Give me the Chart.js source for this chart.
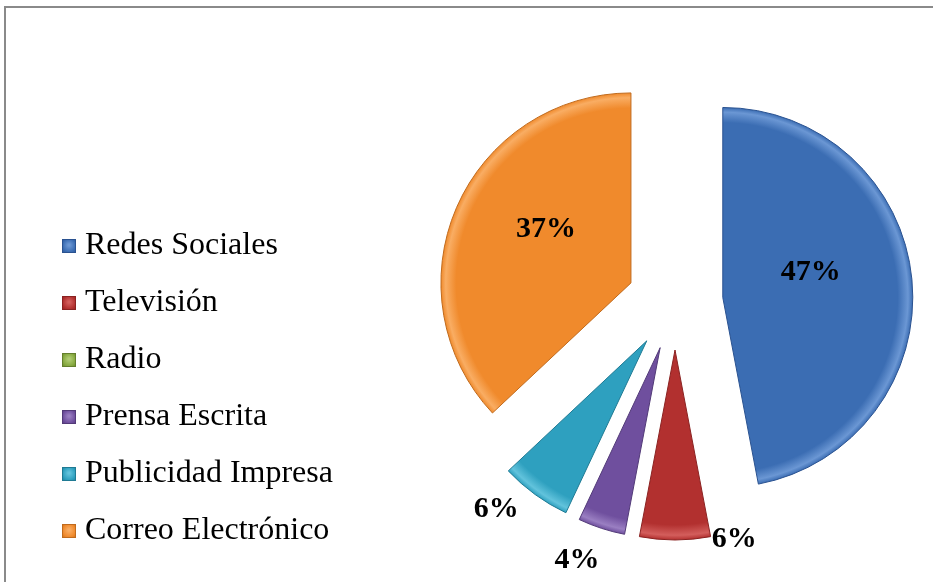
<!DOCTYPE html>
<html>
<head>
<meta charset="utf-8">
<script src="https://cdn.jsdelivr.net/npm/chart.js@4.4.1/dist/chart.umd.min.js"></script>
<style>
  body { margin: 0; background: #fff; }
  #wrap { position: relative; width: 933px; height: 582px; overflow: hidden; }
  #frame { position: absolute; left: 4px; top: 6px; width: 1000px; height: 700px; border: 2px solid #8a8a8a; box-sizing: border-box; }
  #myChart { position: absolute; left: 0; top: 0; }
</style>
</head>
<body>
<div id="wrap">
  <div id="frame"></div>
  <canvas id="myChart" width="933" height="582"></canvas>
</div>
<script>
// datos del gráfico
const categorias = ['Redes Sociales', 'Televisión', 'Radio', 'Prensa Escrita', 'Publicidad Impresa', 'Correo Electrónico'];
const porcentajes = [47, 6, 0, 4, 6, 37];

const colores = ['#3b6db3', '#b2302f', '#86a93f', '#6f4f9e', '#2ea0bf', '#f08a2c'];
const coloresClaros = ['#6b97d4', '#d35e5c', '#b0cc72', '#9a7fc2', '#62c3dc', '#f9ad63'];
const coloresOscuros = ['#2a5290', '#8a2221', '#647f2c', '#523a78', '#1f7a93', '#c06a1c'];

// posición de las etiquetas: desplazamiento angular (grados) y distancia al centro
const etiquetasPos = [
    { shift: -7, r: 139 },
    { shift: -14, r: 245 },
    null,
    { shift: 2.8, r: 276 },
    { shift: 4.7, r: 274 },
    { shift: 6, r: 148 }
];

const RADIO = 190;
const SEPARACION = 48;

function cajaLeyenda(i) {
    const c = document.createElement('canvas');
    c.width = 14;
    c.height = 14;
    const g = c.getContext('2d');
    const grad = g.createRadialGradient(7, 6, 1, 7, 7, 10);
    grad.addColorStop(0, coloresClaros[i]);
    grad.addColorStop(0.6, colores[i]);
    grad.addColorStop(1, coloresOscuros[i]);
    g.fillStyle = grad;
    g.fillRect(0, 0, 14, 14);
    g.strokeStyle = coloresOscuros[i];
    g.lineWidth = 1;
    g.strokeRect(0.5, 0.5, 13, 13);
    return c;
}
const cajas = categorias.map((_, i) => cajaLeyenda(i));

// ángulo medio de cada porción (radianes, 0 = derecha, empezando arriba)
function anguloMedio(i) {
    const total = porcentajes.reduce((a, b) => a + b, 0);
    let acumulado = 0;
    for (let k = 0; k < i; k++) acumulado += porcentajes[k];
    return -Math.PI / 2 + 2 * Math.PI * (acumulado + porcentajes[i] / 2) / total;
}

function centroPorcion(chart, i) {
    const area = chart.chartArea;
    const cx = (area.left + area.right) / 2;
    const cy = (area.top + area.bottom) / 2;
    const a = anguloMedio(i);
    return { x: cx + Math.cos(a) * SEPARACION, y: cy + Math.sin(a) * SEPARACION };
}

function relleno(context) {
    const chart = context.chart;
    const i = context.dataIndex;
    if (!chart.chartArea) return colores[i];
    const c = centroPorcion(chart, i);
    const grad = chart.ctx.createRadialGradient(c.x, c.y, 0, c.x, c.y, RADIO);
    grad.addColorStop(0, colores[i]);
    grad.addColorStop(0.92, colores[i]);
    grad.addColorStop(0.975, coloresClaros[i]);
    grad.addColorStop(1, colores[i]);
    return grad;
}

// ancho fijo de la leyenda para dejar el pastel en su sitio
const anchoLeyenda = {
    id: 'anchoLeyenda',
    beforeInit(chart) {
        const legend = chart.legend;
        const fitOriginal = legend.fit;
        legend.fit = function() {
            fitOriginal.call(this);
            this.width = 373;
        };
    }
};

// separar las porciones (pastel "explotado") sin cambiar el radio
const separar = {
    id: 'separar',
    afterDatasetsUpdate(chart) {
        const meta = chart.getDatasetMeta(0);
        meta.data.forEach((arc, i) => {
            const c = centroPorcion(chart, i);
            arc.x = c.x;
            arc.y = c.y;
        });
    }
};

// etiquetas de porcentaje
const etiquetas = {
    id: 'etiquetas',
    afterDatasetsDraw(chart) {
        const ctx = chart.ctx;
        const area = chart.chartArea;
        const cx = (area.left + area.right) / 2;
        const cy = (area.top + area.bottom) / 2;
        const meta = chart.getDatasetMeta(0);
        ctx.save();
        ctx.font = 'bold 30px "Liberation Serif"';
        ctx.fillStyle = '#000';
        ctx.textAlign = 'center';
        ctx.textBaseline = 'middle';
        meta.data.forEach((arc, i) => {
            const pos = etiquetasPos[i];
            if (!pos || porcentajes[i] <= 0) return;
            const a = (arc.startAngle + arc.endAngle) / 2 + pos.shift * Math.PI / 180;
            const x = cx + Math.cos(a) * pos.r;
            const y = cy + Math.sin(a) * pos.r;
            ctx.fillText(porcentajes[i] + '%', x, y);
        });
        ctx.restore();
    }
};

const ctx = document.getElementById('myChart').getContext('2d');

const myChart = new Chart(ctx, {
    type: 'pie',
    data: {
        labels: categorias,
        datasets: [{
            data: porcentajes,
            backgroundColor: relleno,
            borderColor: coloresOscuros,
            borderWidth: c => (c.raw > 0 ? 1 : 0)
        }]
    },
    options: {
        responsive: false,
        animation: false,
        radius: RADIO,
        layout: {
            padding: { left: 44, right: 0, top: 32, bottom: 10 }
        },
        plugins: {
            legend: {
                position: 'left',
                align: 'end',
                labels: {
                    font: { family: 'Liberation Serif', size: 32 },
                    color: '#000',
                    padding: 25,
                    usePointStyle: true,
                    pointStyleWidth: 0.01,
                    generateLabels: function(chart) {
                        const items = Chart.controllers.pie.overrides.plugins.legend.labels.generateLabels(chart);
                        items.forEach((item, i) => {
                            item.pointStyle = cajas[i];
                        });
                        return items;
                    }
                }
            },
            tooltip: { enabled: false }
        },
        events: []
    },
    plugins: [anchoLeyenda, separar, etiquetas]
});
</script>
</body>
</html>
